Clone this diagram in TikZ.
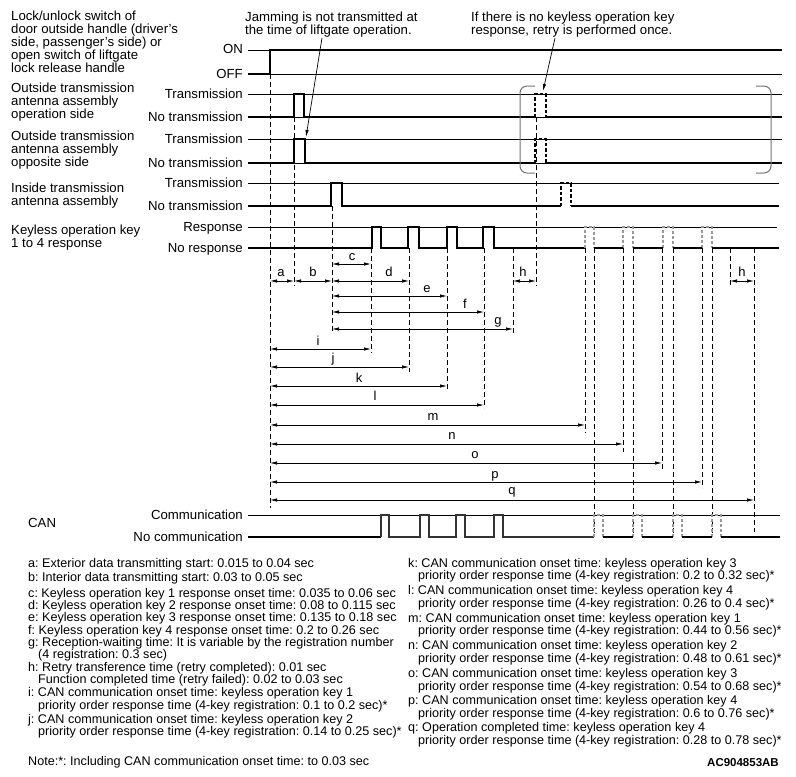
\documentclass[tikz,border=0pt]{standalone}
\usepackage{fontspec}
\setmainfont{Liberation Sans}
\usetikzlibrary{arrows.meta}
\frenchspacing
\begin{document}
\begin{tikzpicture}[x=1pt,y=-1pt,
  thinln/.style={line width=0.7pt},
  sig/.style={line width=2.6pt, line join=miter},
  dsig/.style={line width=2.4pt, dash pattern=on 3.5pt off 2pt},
  gsig/.style={line width=1.7pt, draw=black!40, dash pattern=on 3pt off 2pt},
  cansig/.style={line width=1.5pt, draw=black!80},
  vd/.style={line width=0.7pt, dash pattern=on 5pt off 3pt},
  brk/.style={line width=1pt, draw=black!55, rounded corners=7pt},
  dimarr/.style={line width=0.7pt, {Latex[length=7pt,width=3.4pt]}-{Latex[length=7pt,width=3.4pt]}},
  annarr/.style={line width=0.7pt, -{Latex[length=7pt,width=3.4pt]}},
  lab/.style={font=\fontsize{13.2}{13.2}\selectfont, inner sep=0pt, anchor=base west},
  rlab/.style={font=\fontsize{13.2}{13.2}\selectfont, inner sep=0pt, anchor=base east},
  dl/.style={font=\fontsize{13}{13}\selectfont, inner sep=0pt, anchor=base},
  note/.style={font=\fontsize{12.6}{12.6}\selectfont, inner sep=0pt, anchor=base west},
]
\useasboundingbox (0,0) rectangle (796,777);

% ---------- top annotations ----------
\node[lab] (jam1) at (245,21) {Jamming is not transmitted at};
\node[lab] (jam2) at (245,34) {the time of liftgate operation.};
\node[lab] (ret1) at (471,21) {If there is no keyless operation key};
\node[lab] (ret2) at (471,34) {response, retry is performed once.};

% ---------- left labels ----------
\node[lab] (l1) at (11,20.5) {Lock/unlock switch of};
\node[lab] (l2) at (11,33.5) {door outside handle (driver's};
\node[lab] (l3) at (11,46.5) {side, passenger's side) or};
\node[lab] (l4) at (11,59.5) {open switch of liftgate};
\node[lab] (l5) at (11,72.5) {lock release handle};
\node[lab] (l6) at (11,92.5) {Outside transmission};
\node[lab] (l7) at (11,105.5) {antenna assembly};
\node[lab] (l8) at (11,118.5) {operation side};
\node[lab] (l9) at (11,140.5) {Outside transmission};
\node[lab] (l10) at (11,153.5) {antenna assembly};
\node[lab] (l11) at (11,166.5) {opposite side};
\node[lab] (l12) at (11,192.5) {Inside transmission};
\node[lab] (l13) at (11,205.5) {antenna assembly};
\node[lab] (l14) at (11,234.5) {Keyless operation key};
\node[lab] (l15) at (11,247.5) {1 to 4 response};
\node[lab] (l16) at (28,527.5) {CAN};

% ---------- level labels ----------
\node[rlab] (s1) at (243,53.5) {ON};
\node[rlab] (s2) at (243,78.5) {OFF};
\node[rlab] (s3) at (243,98.5) {Transmission};
\node[rlab] (s4) at (243,121.5) {No transmission};
\node[rlab] (s5) at (243,143.5) {Transmission};
\node[rlab] (s6) at (243,167.5) {No transmission};
\node[rlab] (s7) at (243,187.5) {Transmission};
\node[rlab] (s8) at (243,210.5) {No transmission};
\node[rlab] (s9) at (243,231) {Response};
\node[rlab] (s10) at (243,252.5) {No response};
\node[rlab] (s11) at (243,519) {Communication};
\node[rlab] (s12) at (243,541.5) {No communication};

% ---------- thin reference lines ----------
\draw[thinln] (248,50) -- (270,50);
\draw[thinln] (270,74) -- (782,74);
\draw[thinln] (248,94) -- (782,94);
\draw[thinln] (248,117) -- (782,117);
\draw[thinln] (248,139) -- (782,139);
\draw[thinln] (248,163) -- (782,163);
\draw[thinln] (248,183) -- (779,183);
\draw[thinln] (248,227) -- (777,227);
\draw[thinln] (248,515) -- (780,515);

% ---------- vertical dashed guide lines ----------
\draw[vd] (270,74) -- (270,508);
\draw[vd] (294,117) -- (294,286);
\draw[vd] (332,206) -- (332,333);
\draw[vd] (371,248) -- (371,353);
\draw[vd] (409,248) -- (409,372);
\draw[vd] (447,248) -- (447,390);
\draw[vd] (484,248) -- (484,408);
\draw[vd] (513,248) -- (513,335);
\draw[vd] (536,117) -- (536,286);
\draw[vd] (585,248) -- (585,433);
\draw[vd] (594,248) -- (594,537);
\draw[vd] (623,248) -- (623,452);
\draw[vd] (633,248) -- (633,537);
\draw[vd] (662,248) -- (662,470);
\draw[vd] (673,248) -- (673,537);
\draw[vd] (702,248) -- (702,488);
\draw[vd] (712,248) -- (712,537);
\draw[vd] (730,248) -- (730,285);
\draw[vd] (754,248) -- (754,532);

% ---------- signals ----------
% switch
\draw[sig] (248,74) -- (270,74) -- (270,50) -- (782,50);
% outside, operation side
\draw[sig] (248,117) -- (294,117) -- (294,94) -- (304,94) -- (304,117) -- (535,117);
\draw[dsig] (535,117) -- (535,94) -- (546,94) -- (546,117);
\draw[sig] (546,117) -- (782,117);
% outside, opposite side
\draw[sig] (248,163) -- (294,163) -- (294,139) -- (305,139) -- (305,163) -- (535,163);
\draw[dsig] (535,163) -- (535,139) -- (546,139) -- (546,163);
\draw[sig] (546,163) -- (782,163);
% inside
\draw[sig] (248,206) -- (331,206) -- (331,183) -- (342,183) -- (342,206) -- (561,206);
\draw[dsig] (561,206) -- (561,183) -- (571,183) -- (571,206);
\draw[sig] (571,206) -- (779,206);
% keyless response
\draw[sig] (248,248) -- (372,248) -- (372,227) -- (381,227) -- (381,248)
  -- (408,248) -- (408,227) -- (419,227) -- (419,248)
  -- (447,248) -- (447,227) -- (457,227) -- (457,248)
  -- (483,248) -- (483,227) -- (494,227) -- (494,248) -- (585,248);
\draw[gsig] (585,248) -- (585,227) -- (594,227) -- (594,248);
\draw[gsig] (623,248) -- (623,227) -- (633,227) -- (633,248);
\draw[gsig] (663,248) -- (663,227) -- (673,227) -- (673,248);
\draw[gsig] (702,248) -- (702,227) -- (712,227) -- (712,248);
\draw[sig] (594,248) -- (623,248);
\draw[sig] (633,248) -- (663,248);
\draw[sig] (673,248) -- (702,248);
\draw[sig] (712,248) -- (779,248);
% CAN
\draw[sig] (248,537) -- (381,537);
\draw[cansig] (381,537) -- (381,515) -- (389,515) -- (389,537)
  -- (420,537) -- (420,515) -- (429,515) -- (429,537)
  -- (456,537) -- (456,515) -- (465,515) -- (465,537)
  -- (494,537) -- (494,515) -- (503,515) -- (503,537) -- (594,537);
\draw[gsig] (594,537) -- (594,515) -- (603,515) -- (603,537);
\draw[gsig] (633,537) -- (633,515) -- (642,515) -- (642,537);
\draw[gsig] (673,537) -- (673,515) -- (682,515) -- (682,537);
\draw[gsig] (712,537) -- (712,515) -- (721,515) -- (721,537);
\draw[sig] (603,537) -- (633,537);
\draw[sig] (642,537) -- (673,537);
\draw[sig] (682,537) -- (712,537);
\draw[sig] (721,537) -- (780,537);

% ---------- brackets ----------
\draw[brk] (535,86) -| (520,173) -- (535,173);
\draw[brk] (756,86) -| (771,173) -- (756,173);

% ---------- annotation arrows ----------
\coordinate (jamS) at (322,38);
\coordinate (jamE) at (306,137);
\draw[annarr] (jamS) -- (jamE);
\coordinate (retS) at (555,38);
\coordinate (retE) at (543,91);
\draw[annarr] (retS) -- (retE);

% ---------- dimension arrows ----------
\draw[dimarr] (270,281) -- (294,281);
\draw[dimarr] (294,281) -- (332,281);
\draw[dimarr] (332,264) -- (371,264);
\draw[dimarr] (332,281) -- (409,281);
\draw[dimarr] (332,296) -- (447,296);
\draw[dimarr] (332,312) -- (484,312);
\draw[dimarr] (332,329) -- (513,329);
\draw[dimarr] (513,281) -- (536,281);
\draw[dimarr] (730,281) -- (754,281);
\draw[dimarr] (270,349) -- (371,349);
\draw[dimarr] (270,367) -- (409,367);
\draw[dimarr] (270,386) -- (447,386);
\draw[dimarr] (270,405) -- (484,405);
\draw[dimarr] (270,425) -- (585,425);
\draw[dimarr] (270,444) -- (623,444);
\draw[dimarr] (270,463) -- (662,463);
\draw[dimarr] (270,482) -- (702,482);
\draw[dimarr] (270,500) -- (754,500);

\node[dl] (da) at (281,276) {a};
\node[dl] (db) at (313,276) {b};
\node[dl] (dc) at (352,260) {c};
\node[dl] (dd) at (389,276) {d};
\node[dl] (de) at (427,292) {e};
\node[dl] (df) at (465,308) {f};
\node[dl] (dg) at (498,324) {g};
\node[dl] (dh1) at (523,276) {h};
\node[dl] (dh2) at (742,276) {h};
\node[dl] (di) at (318,345) {i};
\node[dl] (dj) at (333,362) {j};
\node[dl] (dk) at (359,382) {k};
\node[dl] (dl1) at (375,400) {l};
\node[dl] (dm) at (433,420) {m};
\node[dl] (dn) at (452,439) {n};
\node[dl] (do) at (475,458) {o};
\node[dl] (dp) at (495,478) {p};
\node[dl] (dq) at (512,494) {q};

% ---------- notes, left column ----------
\node[note] (na) at (28,567.3) {a: Exterior data transmitting start: 0.015 to 0.04 sec};
\node[note] (nb) at (28,581.3) {b: Interior data transmitting start: 0.03 to 0.05 sec};
\node[note] (nc) at (28,597.3) {c: Keyless operation key 1 response onset time: 0.035 to 0.06 sec};
\node[note] (nd) at (28,609.3) {d: Keyless operation key 2 response onset time: 0.08 to 0.115 sec};
\node[note] (ne) at (28,621.3) {e: Keyless operation key 3 response onset time: 0.135 to 0.18 sec};
\node[note] (nf) at (28,634) {f: Keyless operation key 4 response onset time: 0.2 to 0.26 sec};
\node[note] (ng) at (28,646.3) {g: Reception-waiting time: It is variable by the registration number};
\node[note] (ng2) at (38,658.5) {(4 registration: 0.3 sec)};
\node[note] (nh) at (28,671.3) {h: Retry transference time (retry completed): 0.01 sec};
\node[note] (nh2) at (38,683.5) {Function completed time (retry failed): 0.02 to 0.03 sec};
\node[note] (ni) at (28,696.5) {i: CAN communication onset time: keyless operation key 1};
\node[note] (ni2) at (38,709) {priority order response time (4-key registration: 0.1 to 0.2 sec)*};
\node[note] (nj) at (28,723) {j: CAN communication onset time: keyless operation key 2};
\node[note] (nj2) at (38,735.3) {priority order response time (4-key registration: 0.14 to 0.25 sec)*};
\node[note] (nnote) at (28,765) {Note:*: Including CAN communication onset time: to 0.03 sec};

% ---------- notes, right column ----------
\node[note] (nk) at (408,567.3) {k: CAN communication onset time: keyless operation key 3};
\node[note] (nk2) at (418,579.5) {priority order response time (4-key registration: 0.2 to 0.32 sec)*};
\node[note] (nl) at (408,594.3) {l: CAN communication onset time: keyless operation key 4};
\node[note] (nl2) at (418,607) {priority order response time (4-key registration: 0.26 to 0.4 sec)*};
\node[note] (nm) at (408,622) {m: CAN communication onset time: keyless operation key 1};
\node[note] (nm2) at (418,634.3) {priority order response time (4-key registration: 0.44 to 0.56 sec)*};
\node[note] (nn) at (408,649.3) {n: CAN communication onset time: keyless operation key 2};
\node[note] (nn2) at (418,662) {priority order response time (4-key registration: 0.48 to 0.61 sec)*};
\node[note] (no) at (408,677) {o: CAN communication onset time: keyless operation key 3};
\node[note] (no2) at (418,690) {priority order response time (4-key registration: 0.54 to 0.68 sec)*};
\node[note] (np) at (408,704.3) {p: CAN communication onset time: keyless operation key 4};
\node[note] (np2) at (418,717) {priority order response time (4-key registration: 0.6 to 0.76 sec)*};
\node[note] (nq) at (408,731.3) {q: Operation completed time: keyless operation key 4};
\node[note] (nq2) at (418,744) {priority order response time (4-key registration: 0.28 to 0.78 sec)*};
\node[font=\fontsize{11.5}{11.5}\selectfont\bfseries, inner sep=0pt, anchor=base east] (code) at (779,766) {AC904853AB};
\end{tikzpicture}
\end{document}
